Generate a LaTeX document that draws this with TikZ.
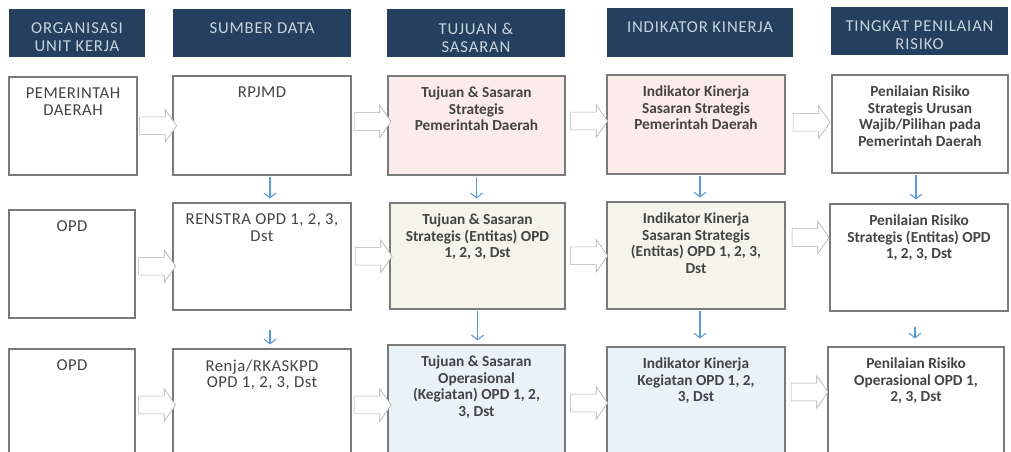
\documentclass[tikz,border=0pt]{standalone}
\usepackage{fontspec}
\setmainfont{Carlito}
\usetikzlibrary{fit,calc,shapes.arrows,arrows.meta}

\definecolor{hdrblue}{HTML}{24405E}
\definecolor{hdrtext}{HTML}{C9D3DE}
\definecolor{boxgray}{HTML}{7A7A7A}
\definecolor{txtgray}{HTML}{444444}
\definecolor{pinkfill}{HTML}{FBEBEB}
\definecolor{beigefill}{HTML}{F4F4EA}
\definecolor{bluefill}{HTML}{E8F2F7}
\definecolor{arrblue}{HTML}{5B9BD5}

\tikzset{
	hdr/.style={fill=hdrblue, draw=none, inner sep=0pt},
	hdrtxt/.style={text=hdrtext, font=\fontsize{12.5}{13.5}\selectfont\addfontfeatures{LetterSpace=5}, align=center, anchor=north, inner sep=0pt},
	box/.style={draw=boxgray, line width=0.8pt, fill=white, inner sep=0pt},
	boxtxt/.style={text=txtgray, font=\fontsize{12.5}{12.5}\selectfont\addfontfeatures{LetterSpace=3}, align=center, anchor=north, inner sep=0pt},
	boldtxt/.style={boxtxt, font=\fontsize{11.5}{12.5}\selectfont\bfseries},
	blk/.style={single arrow, draw=gray!60, line width=0.5pt, fill=white, inner xsep=0pt, inner ysep=6.4pt,
		single arrow head extend=5.5pt, single arrow tip angle=110, minimum height=27.75pt},
	down/.style={draw=arrblue, line width=0.8pt, shorten <=1pt, shorten >=3pt, -{Straight Barb[length=3.5pt, width=9pt]}}
}

\begin{document}
\begin{tikzpicture}[x=0.75pt, y=-0.75pt]
	\useasboundingbox (0,0) rectangle (1011,452);
	\clip (0,0) rectangle (1011,452);
	
	\node[hdr, fit={(9,9) (145,57)}] (h1) {};
	\node[hdr, fit={(173,9) (351,57)}] (h2) {};
	\node[hdr, fit={(387,9) (565,57)}] (h3) {};
	\node[hdr, fit={(607,8) (793,57)}] (h4) {};
	\node[hdr, fit={(831,7) (1008,55)}] (h5) {};
	
	\node[hdrtxt] (th1) at ($(h1.north)+(0,14)$) {ORGANISASI\\UNIT KERJA};
	\node[hdrtxt] (th2) at ($(h2.north)+(0,14)$) {SUMBER DATA};
	\node[hdrtxt] (th3) at ($(h3.north)+(0,14)$) {TUJUAN \&\\SASARAN};
	\node[hdrtxt] (th4) at ($(h4.north)+(0,14)$) {INDIKATOR KINERJA};
	\node[hdrtxt] (th5) at ($(h5.north)+(0,14)$) {TINGKAT PENILAIAN\\RISIKO};
	
	\node[box, fit={(9,77) (137,175)}] (b11) {};
	\node[box, fit={(173,76) (351,175)}] (b12) {};
	\node[box, fill=pinkfill, fit={(388,76) (565,175)}] (b13) {};
	\node[box, fill=pinkfill, fit={(607,75) (785,174)}] (b14) {};
	\node[box, fit={(832,75) (1008,173)}] (b15) {};
	
	\node[box, fit={(9,210) (135,318)}] (b21) {};
	\node[box, fit={(173,203) (351,310)}] (b22) {};
	\node[box, fill=beigefill, fit={(390,203) (565,309)}] (b23) {};
	\node[box, fill=beigefill, fit={(607,202) (785,309)}] (b24) {};
	\node[box, fit={(830,204) (1008,311)}] (b25) {};
	
	\node[box, fit={(9,349) (135,460)}] (b31) {};
	\node[box, fit={(173,349) (351,460)}] (b32) {};
	\node[box, fill=bluefill, fit={(388,345) (565,460)}] (b33) {};
	\node[box, fill=bluefill, fit={(607,347) (785,460)}] (b34) {};
	\node[box, fit={(828,347) (1004,460)}] (b35) {};
	
	\node[boxtxt] (t11) at ($(b11.north)+(0,11)$) {PEMERINTAH\\DAERAH};
	\node[boxtxt] (t12) at ($(b12.north)+(0,11)$) {RPJMD};
	\node[boldtxt] (t13) at ($(b13.north)+(0,11)$) {Tujuan \& Sasaran\\Strategis\\Pemerintah Daerah};
	\node[boldtxt] (t14) at ($(b14.north)+(0,11)$) {Indikator Kinerja\\Sasaran Strategis\\Pemerintah Daerah};
	\node[boldtxt] (t15) at ($(b15.north)+(0,11)$) {Penilaian Risiko\\Strategis Urusan\\Wajib/Pilihan pada\\Pemerintah Daerah};
	
	\node[boxtxt] (t21) at ($(b21.north)+(0,11)$) {OPD};
	\node[boxtxt] (t22) at ($(b22.north)+(0,11)$) {RENSTRA OPD 1, 2, 3,\\Dst};
	\node[boldtxt] (t23) at ($(b23.north)+(0,11)$) {Tujuan \& Sasaran\\Strategis (Entitas) OPD\\1, 2, 3, Dst};
	\node[boldtxt] (t24) at ($(b24.north)+(0,11)$) {Indikator Kinerja\\Sasaran Strategis\\(Entitas) OPD 1, 2, 3,\\Dst};
	\node[boldtxt] (t25) at ($(b25.north)+(0,11)$) {Penilaian Risiko\\Strategis (Entitas) OPD\\1, 2, 3, Dst};
	
	\node[boxtxt] (t31) at ($(b31.north)+(0,11)$) {OPD};
	\node[boxtxt] (t32) at ($(b32.north)+(0,11)$) {Renja/RKASKPD\\OPD 1, 2, 3, Dst};
	\node[boldtxt] (t33) at ($(b33.north)+(0,11)$) {Tujuan \& Sasaran\\Operasional\\(Kegiatan) OPD 1, 2,\\3, Dst};
	\node[boldtxt] (t34) at ($(b34.north)+(0,11)$) {Indikator Kinerja\\Kegiatan OPD 1, 2,\\3, Dst};
	\node[boldtxt] (t35) at ($(b35.north)+(0,11)$) {Penilaian Risiko\\Operasional OPD 1,\\2, 3, Dst};
	
	\node[blk] (a112) at ($(b11.east)!0.5!(b12.west)$) {};
	\node[blk] (a123) at ($(b12.east)!0.5!(b13.west)+(0,-4)$) {};
	\node[blk] (a134) at ($(b13.east)!0.5!(b14.west)+(0,-4)$) {};
	\node[blk] (a145) at ($(b14.east)!0.5!(b15.west)+(0,-2)$) {};
	
	\node[blk] (a212) at ($(b21.east)!0.5!(b22.west)+(0,6)$) {};
	\node[blk] (a223) at ($(b22.east)!0.5!(b23.west)$) {};
	\node[blk] (a234) at ($(b23.east)!0.5!(b24.west)$) {};
	\node[blk] (a245) at ($(b24.east)!0.5!(b25.west)+(0,-19)$) {};
	
	\node[blk] (a312) at ($(b31.east |- 0,405)!0.5!(b32.west |- 0,405)$) {};
	\node[blk] (a323) at ($(b32.east |- 0,405)!0.5!(b33.west |- 0,405)$) {};
	\node[blk] (a334) at ($(b33.east |- 0,403)!0.5!(b34.west |- 0,403)$) {};
	\node[blk] (a345) at ($(b34.east |- 0,392)!0.5!(b35.west |- 0,392)$) {};
	
	\draw[down] ($(b12.south)+(8,0)$) -- ($(b22.north)+(8,0)$);
	\draw[down] (b13.south) -- (b13.south |- b23.north);
	\draw[down] ($(b14.south)+(4,0)$) -- ($(b14.south |- b24.north)+(4,0)$);
	\draw[down] ($(b15.south)+(-4,0)$) -- ($(b15.south |- b25.north)+(-4,0)$);
	
	\draw[down] ($(b22.south)+(8,18)$) -- ($(b22.south |- b32.north)+(8,0)$);
	\draw[down] (b23.south) -- (b23.south |- b33.north);
	\draw[down] ($(b24.south)+(4,0)$) -- ($(b24.south |- b34.north)+(4,-4)$);
	\draw[down] ($(b25.south)+(-4,14)$) -- ($(b25.south |- b35.north)+(-4,-4)$);
\end{tikzpicture}
\end{document}
